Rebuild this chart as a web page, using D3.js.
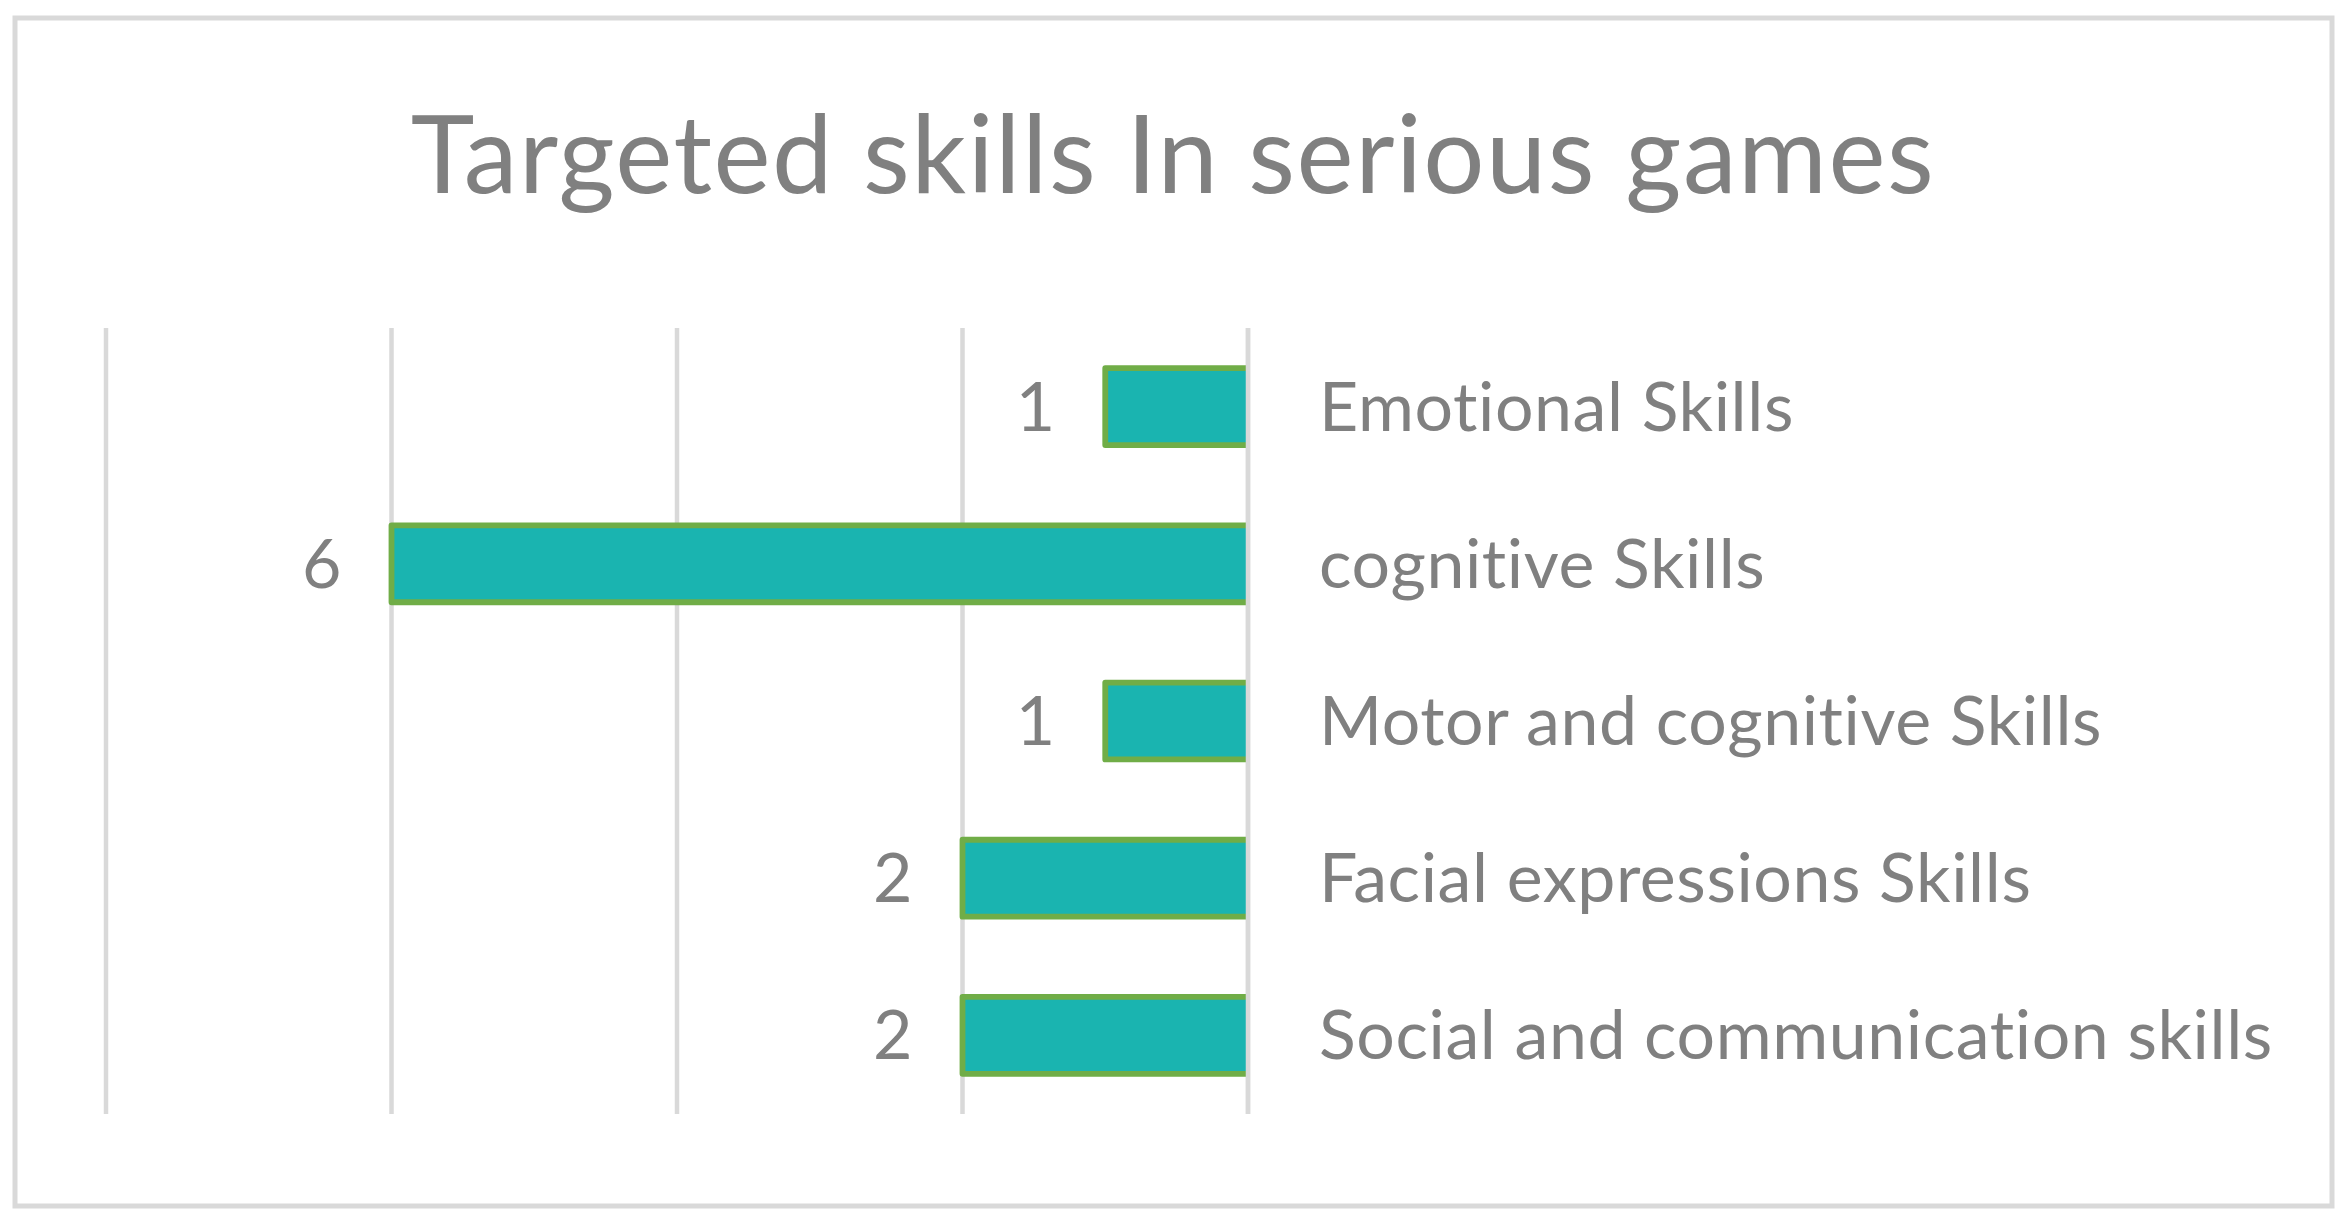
<!DOCTYPE html>
<html>
<head>
<meta charset="utf-8">
<script src="https://cdn.jsdelivr.net/npm/d3@7"></script>
<style>
  html, body { margin: 0; padding: 0; background: #ffffff; }
  svg { display: block; }
  text { font-variant-ligatures: none; font-feature-settings: "liga" 0, "clig" 0; }
</style>
</head>
<body>
<svg id="chart" width="2352" height="1224"></svg>
<script>
// ---- data ----
const categories = [
  "Emotional Skills",
  "cognitive Skills",
  "Motor and cognitive Skills",
  "Facial expressions Skills",
  "Social and communication skills"
];
const values = [1, 6, 1, 2, 2];
const tickValues = [0, 2, 4, 6, 8];
const titleText = "Targeted skills In serious games";

// ---- styles ----
const W = 2352, H = 1224;
const FONT = "Lato, 'Open Sans', sans-serif";
const TEXT = "#808080";
const GRID = "#d9d9d9";
const FILL = "#1ab4b0";
const EDGE = "#70ad47";

const svg = d3.select("#chart");

svg.append("rect").attr("width", W).attr("height", H).attr("fill", "#fff");

// outer border
svg.append("rect")
  .attr("x", 15).attr("y", 18)
  .attr("width", 2317).attr("height", 1188)
  .attr("fill", "#fff")
  .attr("stroke", GRID).attr("stroke-width", 5);

// title
svg.append("text")
  .attr("x", 1173).attr("y", 193)
  .attr("text-anchor", "middle")
  .attr("font-family", FONT).attr("font-size", 108)
  .attr("letter-spacing", 1.5)
  .attr("fill", TEXT)
  .text(titleText);

// scales
const x = d3.scaleLinear().domain([0, 8]).range([1248, 106]);
const g = 0.9 / 1.9;
const y = d3.scaleBand().domain(categories).range([328, 1114])
  .paddingInner(g).paddingOuter(g / 2);

// gridlines
svg.append("g").selectAll("line").data(tickValues).join("line")
  .attr("x1", d => x(d)).attr("x2", d => x(d))
  .attr("y1", 328).attr("y2", 1114)
  .attr("stroke", GRID).attr("stroke-width", 4.5);

const sw = 5.8;
const rows = categories.map((c, i) => ({ c, v: values[i] }));

// bar fills
svg.append("g").selectAll("rect").data(rows).join("rect")
  .attr("x", d => x(d.v))
  .attr("y", d => y(d.c) + sw / 2)
  .attr("width", d => x(0) - x(d.v))
  .attr("height", y.bandwidth() - sw)
  .attr("fill", FILL);

// bar edges (top, left, bottom)
svg.append("g").selectAll("path").data(rows).join("path")
  .attr("d", d => {
    const y0 = y(d.c) + sw / 2, y1 = y(d.c) + y.bandwidth() - sw / 2;
    return `M${x(0)},${y0}L${x(d.v)},${y0}L${x(d.v)},${y1}L${x(0)},${y1}`;
  })
  .attr("fill", "none")
  .attr("stroke", EDGE).attr("stroke-width", sw)
  .attr("stroke-linejoin", "round");

// zero line on top
svg.append("line")
  .attr("x1", x(0)).attr("x2", x(0))
  .attr("y1", 328).attr("y2", 1114)
  .attr("stroke", GRID).attr("stroke-width", 4.5);

// value labels
svg.append("g").selectAll("text").data(rows).join("text")
  .attr("x", d => x(d.v) - 50)
  .attr("y", d => y(d.c) + y.bandwidth() / 2 + 24)
  .attr("text-anchor", "end")
  .attr("font-family", FONT).attr("font-size", 68)
  .attr("fill", TEXT)
  .text(d => d.v);

// category labels
svg.append("g").selectAll("text").data(rows).join("text")
  .attr("x", x(0) + 71)
  .attr("y", d => y(d.c) + y.bandwidth() / 2 + 24)
  .attr("text-anchor", "start")
  .attr("font-family", FONT).attr("font-size", 68)
  .attr("letter-spacing", 0.6)
  .attr("fill", TEXT)
  .text(d => d.c);
</script>
</body>
</html>
